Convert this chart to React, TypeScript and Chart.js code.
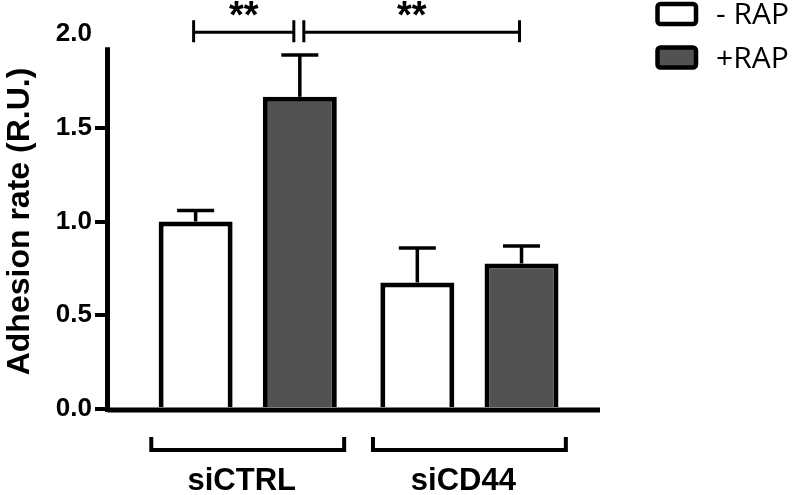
import { useEffect, useRef } from 'react';
import { Chart, registerables } from 'chart.js';

Chart.register(...registerables);

// ---- data ----
const categories = ['siCTRL', 'siCD44'];
const seriesLabels = ['- RAP', '+RAP'];
const minusRapMeans = [1.0, 0.675];
const minusRapErrors = [0.059, 0.184];
const plusRapMeans = [1.665, 0.776];
const plusRapErrors = [0.223, 0.093];
const yTickValues = [0, 0.5, 1.0, 1.5, 2.0];
// significance brackets: [categoryIndex, seriesIndex] pairs
const significancePairs: { a: [number, number]; b: [number, number]; label: string }[] = [
  { a: [0, 0], b: [0, 1], label: '**' },
  { a: [0, 1], b: [1, 1], label: '**' },
];

// ---- styles ----
const FONT = '"Liberation Sans", Arial, sans-serif';
const LEGEND_FONT = '"Open Sans", "Liberation Sans", sans-serif';
const FILLS = ['#ffffff', '#525252'];
const ERRORS = [minusRapErrors, plusRapErrors];
const MEANS = [minusRapMeans, plusRapMeans];
const Y_AXIS_TOP = 1.93;
const BRACKET_LEVEL = 2.01;

const overlay = {
  id: 'overlay',
  afterDatasetsDraw(chart: any) {
    const { ctx, chartArea, scales } = chart;
    const x = scales.x;
    const y = scales.y;
    ctx.save();
    ctx.strokeStyle = '#000';
    ctx.fillStyle = '#000';
    ctx.lineCap = 'butt';

    // error bars
    chart.data.datasets.forEach((ds: any, di: number) => {
      const meta = chart.getDatasetMeta(di);
      meta.data.forEach((bar: any, i: number) => {
        const topVal = MEANS[di][i] + ERRORS[di][i];
        const yTop = y.getPixelForValue(topVal);
        const yBar = y.getPixelForValue(MEANS[di][i]);
        const capHalf = bar.width / 4;
        ctx.lineWidth = 3.5;
        ctx.beginPath();
        ctx.moveTo(bar.x, yBar);
        ctx.lineTo(bar.x, yTop);
        ctx.stroke();
        ctx.beginPath();
        ctx.moveTo(bar.x - capHalf, yTop);
        ctx.lineTo(bar.x + capHalf, yTop);
        ctx.stroke();
      });
    });

    // axes lines
    const y0 = y.getPixelForValue(0);
    ctx.lineWidth = 5;
    ctx.beginPath();
    ctx.moveTo(chartArea.left, y0 + 1);
    ctx.lineTo(chartArea.right, y0 + 1);
    ctx.stroke();
    ctx.beginPath();
    ctx.moveTo(chartArea.left, y0 + 3);
    ctx.lineTo(chartArea.left, y.getPixelForValue(Y_AXIS_TOP));
    ctx.stroke();

    // significance brackets
    const by = y.getPixelForValue(BRACKET_LEVEL);
    significancePairs.forEach((p, k) => {
      const barA = chart.getDatasetMeta(p.a[1]).data[p.a[0]];
      const barB = chart.getDatasetMeta(p.b[1]).data[p.b[0]];
      let xa = barA.x - 2;
      let xb = barB.x - 2;
      const next = significancePairs[k + 1];
      if (next && next.a[0] === p.b[0] && next.a[1] === p.b[1]) xb -= 4;
      const prev = significancePairs[k - 1];
      if (prev && prev.b[0] === p.a[0] && prev.b[1] === p.a[1]) xa += 6;
      ctx.lineWidth = 3;
      ctx.beginPath();
      ctx.moveTo(xa, by);
      ctx.lineTo(xb, by);
      ctx.moveTo(xa, by - 12);
      ctx.lineTo(xa, by + 10);
      ctx.moveTo(xb, by - 12);
      ctx.lineTo(xb, by + 10);
      ctx.stroke();
      ctx.font = `bold 38px ${FONT}`;
      ctx.textAlign = 'center';
      ctx.textBaseline = 'alphabetic';
      ctx.fillText(p.label, (xa + xb) / 2, by - 4);
    });

    // category brackets and labels
    const unit = x.getPixelForValue(2) - x.getPixelForValue(1);
    categories.forEach((c, i) => {
      const cx = x.getPixelForValue(i + 1);
      const half = unit * 0.435;
      const yb = chartArea.bottom + 41;
      ctx.lineWidth = 4;
      ctx.beginPath();
      ctx.moveTo(cx - half, chartArea.bottom + 28);
      ctx.lineTo(cx - half, yb);
      ctx.lineTo(cx + half, yb);
      ctx.lineTo(cx + half, chartArea.bottom + 28);
      ctx.stroke();
      ctx.font = `bold 31px ${FONT}`;
      ctx.textAlign = 'center';
      ctx.textBaseline = 'alphabetic';
      ctx.fillText(c, cx - 6, chartArea.bottom + 81);
    });

    // legend
    chart.data.datasets.forEach((ds: any, di: number) => {
      const top = 4 + di * 43.5;
      ctx.lineWidth = 4.5;
      ctx.fillStyle = ds.backgroundColor;
      ctx.beginPath();
      (ctx as any).roundRect(657.5, top, 38.5, 20, 3);
      ctx.fill();
      ctx.stroke();
      ctx.fillStyle = '#000';
      ctx.font = `30px ${LEGEND_FONT}`;
      ctx.textAlign = 'left';
      ctx.textBaseline = 'alphabetic';
      ctx.fillText(ds.label, 716, 24 + di * 44);
    });
    ctx.restore();
  },
};

export default function App() {
  const ref = useRef<HTMLCanvasElement | null>(null);
  useEffect(() => {
    if (!ref.current) return;
    const chart = new Chart(ref.current, {
      type: 'bar',
      data: {
        datasets: seriesLabels.map((label, di) => ({
          label,
          data: categories.map((_, i) => ({ x: i + 1, y: MEANS[di][i] })),
          backgroundColor: FILLS[di],
          borderColor: '#000',
          borderWidth: 5,
          borderSkipped: 'start',
          categoryPercentage: 0.94,
          barPercentage: 0.71,
        })),
      },
      options: {
        animation: false,
        responsive: false,
        devicePixelRatio: 1,
        layout: { padding: { left: 0, top: 34, right: 200, bottom: 86 } },
        plugins: { legend: { display: false }, tooltip: { enabled: false } },
        scales: {
          x: {
            type: 'linear',
            min: 0.3675,
            max: 2.589,
            display: false,
            afterBuildTicks: (s: any) => {
              s.ticks = [];
            },
          },
          y: {
            min: 0,
            max: 2,
            afterBuildTicks: (s: any) => {
              s.ticks = yTickValues.map((v) => ({ value: v }));
            },
            afterFit: (s: any) => {
              s.width = 107.5;
            },
            border: { display: false },
            grid: {
              drawOnChartArea: false,
              drawTicks: true,
              tickLength: 12.5,
              lineWidth: 4,
              color: (c: any) => (c.tick && c.tick.value === 2 ? 'rgba(0,0,0,0)' : '#000'),
            },
            ticks: {
              color: '#000',
              padding: 3,
              font: { family: FONT, size: 26, weight: 'bold' },
              callback: (v: any) => Number(v).toFixed(1),
            },
            title: {
              display: true,
              text: 'Adhesion rate (R.U.)',
              color: '#000',
              font: { family: FONT, size: 32, weight: 'bold' },
              padding: { top: 1, bottom: 0 },
            },
          },
        },
      },
      plugins: [overlay],
    } as any);
    return () => chart.destroy();
  }, []);
  return (
    <div style={{ position: 'absolute', left: 0, top: 0, width: 800, height: 495, background: '#fff' }}>
      <canvas ref={ref} width={800} height={495} />
    </div>
  );
}
